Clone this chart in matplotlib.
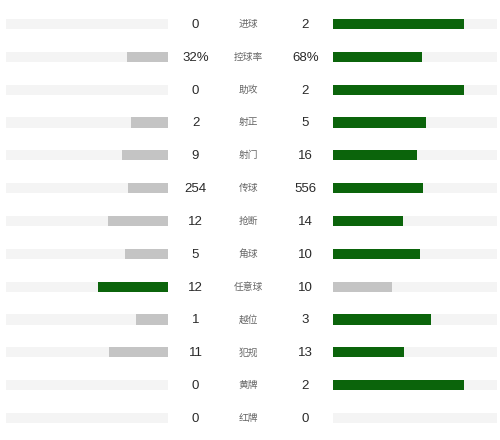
import matplotlib
matplotlib.use("Agg")
import matplotlib.pyplot as plt
import numpy as np

plt.rcParams['font.family'] = ['Noto Sans CJK SC', 'DejaVu Sans']

labels = ['进球', '控球率', '助攻', '射正', '射门', '传球', '抢断', '角球', '任意球', '越位', '犯规', '黄牌', '红牌']
home = [0, 32, 0, 2, 9, 254, 12, 5, 12, 1, 11, 0, 0]
away = [2, 68, 2, 5, 16, 556, 14, 10, 10, 3, 13, 2, 0]
home_text = ['0', '32%', '0', '2', '9', '254', '12', '5', '12', '1', '11', '0', '0']
away_text = ['2', '68%', '2', '5', '16', '556', '14', '10', '10', '3', '13', '2', '0']

GREEN = '#0b640b'
GRAY = '#c4c4c4'
TRACK = '#f4f4f4'

home = np.array(home, dtype=float)
away = np.array(away, dtype=float)
total = home + away
home_share = np.divide(home, total, out=np.zeros_like(home), where=total > 0)
away_share = np.divide(away, total, out=np.zeros_like(away), where=total > 0)

W, H = 500, 440
fig = plt.figure(figsize=(W / 100, H / 100), dpi=100)

n = len(labels)
y = np.arange(n)
row_px = (418 - 24) / (n - 1)
top_px = 24 - row_px / 2
bot_px = 418 + row_px / 2
ax_b = 1 - bot_px / H
ax_h = (bot_px - top_px) / H
full = 1.255
bar_h = 0.31


def setup(ax):
    ax.set_ylim(n - 0.5, -0.5)
    ax.axis('off')


ax_l = fig.add_axes([6 / W, ax_b, 162 / W, ax_h])
ax_r = fig.add_axes([333 / W, ax_b, 164 / W, ax_h])
ax_m = fig.add_axes([168 / W, ax_b, 165 / W, ax_h])

for ax in (ax_l, ax_r):
    setup(ax)
    ax.set_xlim(0, full)
    ax.barh(y, [full] * n, height=bar_h, color=TRACK)
ax_l.invert_xaxis()

home_col = [GREEN if h > a else GRAY for h, a in zip(home, away)]
away_col = [GREEN if a > h else GRAY for h, a in zip(home, away)]
ax_l.barh(y, home_share, height=bar_h, color=home_col)
ax_r.barh(y, away_share, height=bar_h, color=away_col)

setup(ax_m)
ax_m.set_xlim(0, 1)
num_font = ['Liberation Sans', 'DejaVu Sans']
for i in range(n):
    ax_m.text(0.167, i + 0.03, home_text[i], ha='center', va='center', fontsize=9.5,
              color='#2a2a2a', family=num_font)
    ax_m.text(0.487, i, labels[i], ha='center', va='center', fontsize=7,
              color='#666666')
    ax_m.text(0.832, i + 0.03, away_text[i], ha='center', va='center', fontsize=9.5,
              color='#2a2a2a', family=num_font)

fig.savefig('out.png', dpi=100, facecolor='white')
